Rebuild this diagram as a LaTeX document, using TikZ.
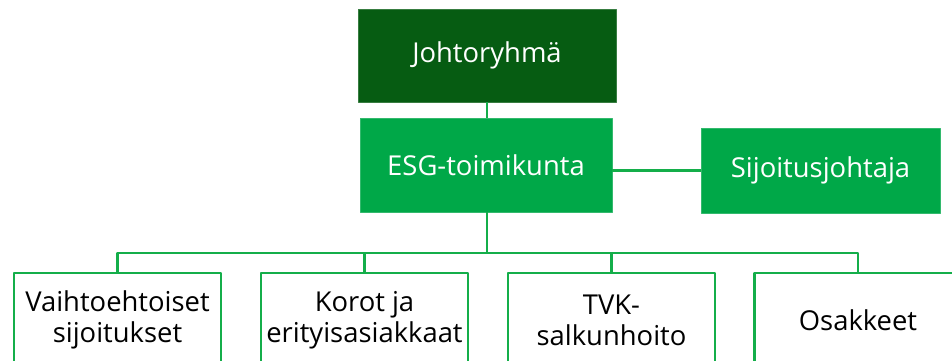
\documentclass[tikz,border=0pt]{standalone}
\usepackage{fontspec}
\setmainfont{Open Sans}
\definecolor{darkgr}{RGB}{6,92,18}
\definecolor{esggr}{RGB}{0,168,72}
\definecolor{linegr}{RGB}{20,174,74}
\tikzset{
  orgbox/.style={rectangle,inner sep=0bp,align=center,font=\fontsize{27.5}{31}\selectfont},
  topbox/.style={orgbox,fill=darkgr,draw=darkgr!80!white,text=white},
  midbox/.style={orgbox,fill=esggr,draw=esggr!80!white,text=white},
  unitbox/.style={orgbox,fill=white,draw=linegr,line width=2.6bp,text=black,
    minimum width=207bp,minimum height=94bp},
  orgline/.style={draw=linegr,line width=2.6bp},
}
\begin{document}
\begin{tikzpicture}[line join=bevel]
\useasboundingbox (0bp,0bp) rectangle (952bp,361bp);
\clip (0bp,0bp) rectangle (952bp,361bp);
  % Node: Johtoryhma
  \node[topbox,minimum width=258bp,minimum height=93bp] (jr) at (487bp,305.5bp) {Johtoryhmä};
  % Node: ESG
  \node[midbox,minimum width=252bp,minimum height=94bp] (esg) at (486bp,196bp) {ESG-toimikunta};
  % Node: Sijoitusjohtaja
  \node[midbox,minimum width=239bp,minimum height=85bp] (sij) at (820.5bp,190.5bp) {Sijoitusjohtaja};
  % Node: units
  \node[unitbox] (vaih) at (117.5bp,41bp) {Vaihtoehtoiset\\sijoitukset};
  \node[unitbox] (korot) at (364.5bp,41bp) {Korot ja\\erityisasiakkaat};
  \node[unitbox] (tvk) at (611.5bp,41bp) {TVK-\\salkunhoito};
  \node[unitbox] (osak) at (858bp,41bp) {Osakkeet};
  \coordinate (bus) at (487bp,108bp);
  % Edge: jr -> esg
  \draw[orgline] (jr.south -| bus) -- (esg.north -| bus);
  % Edge: esg -> sij
  \draw[orgline] (sij.west) -- (sij.west -| esg.east);
  % Edge: esg -> bus
  \draw[orgline] (esg.south -| bus) -- (bus);
  % Edge: bus -> units
  \draw[orgline] (vaih.north) |- (bus) -| (osak.north);
  \draw[orgline] (korot.north) -- (korot.north |- bus);
  \draw[orgline] (tvk.north) -- (tvk.north |- bus);
\end{tikzpicture}
\end{document}
